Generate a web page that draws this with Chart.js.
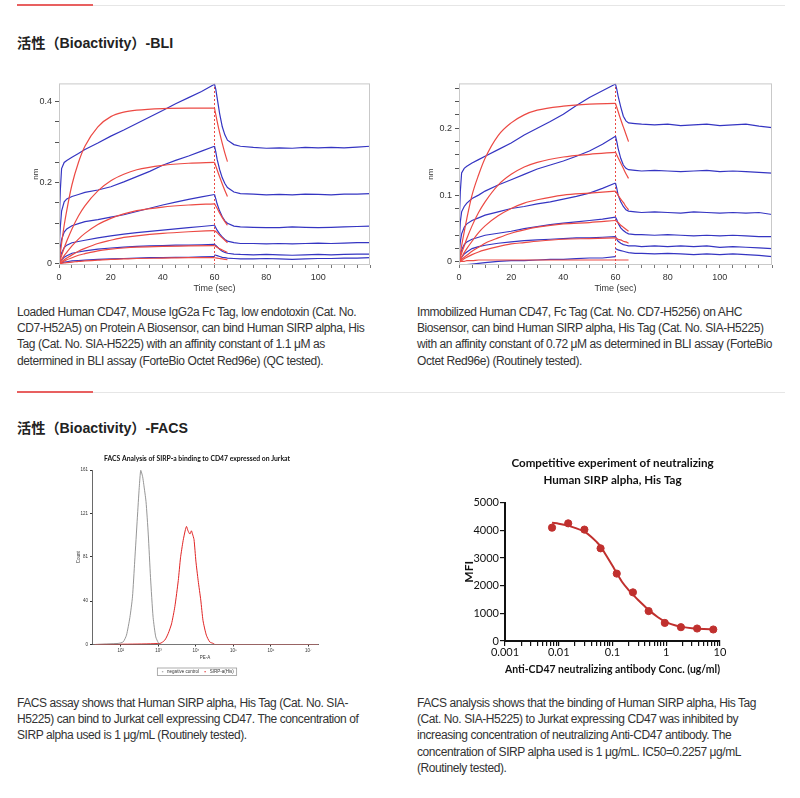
<!DOCTYPE html>
<html>
<head>
<meta charset="utf-8">
<script src="https://cdn.jsdelivr.net/npm/chart.js@4.4.0/dist/chart.umd.min.js"></script>
<style>
  body { margin:0; background:#fff; width:800px; height:798px; position:relative; overflow:hidden;
         font-family:"Liberation Sans", Arial, "Noto Sans CJK SC", sans-serif; color:#333; }
  .rule { position:absolute; left:17px; width:768px; height:1px; background:#e6e6e6; }
  .rule i { position:absolute; left:0; top:-1px; width:76px; height:2px; background:#e86060; }
  h2 { position:absolute; left:17px; margin:0; font-size:14.2px; font-weight:bold; color:#222; line-height:18px; }
  .txt { position:absolute; font-size:12px; line-height:16.2px; white-space:nowrap; letter-spacing:-0.42px; color:#333; }
  .box { position:absolute; }
</style>
</head>
<body>
<div class="rule" style="top:5px"><i></i></div>
<h2 style="top:34px">活性（Bioactivity）-BLI</h2>

<div class="box" style="left:28px;top:75px"><canvas id="bli1" width="350" height="227"></canvas></div>
<div class="box" style="left:410px;top:75px"><canvas id="bli2" width="370" height="227"></canvas></div>

<div class="txt" style="left:17px;top:304px">
  Loaded Human CD47, Mouse IgG2a Fc Tag, low endotoxin (Cat. No.<br>
  CD7-H52A5) on Protein A Biosensor, can bind Human SIRP alpha, His<br>
  Tag (Cat. No. SIA-H5225) with an affinity constant of 1.1 μM as<br>
  determined in BLI assay (ForteBio Octet Red96e) (QC tested).
</div>
<div class="txt" style="left:417px;top:304px">
  Immobilized Human CD47, Fc Tag (Cat. No. CD7-H5256) on AHC<br>
  Biosensor, can bind Human SIRP alpha, His Tag (Cat. No. SIA-H5225)<br>
  with an affinity constant of 0.72 μM as determined in BLI assay (ForteBio<br>
  Octet Red96e) (Routinely tested).
</div>

<div class="rule" style="top:392px"><i></i></div>
<h2 style="top:419px">活性（Bioactivity）-FACS</h2>

<div class="box" style="left:76px;top:452px"><canvas id="facs" width="254" height="232"></canvas></div>
<div class="box" style="left:459px;top:452px"><canvas id="comp" width="300" height="228"></canvas></div>

<div class="txt" style="left:17px;top:695px">
  FACS assay shows that Human SIRP alpha, His Tag (Cat. No. SIA-<br>
  H5225) can bind to Jurkat cell expressing CD47. The concentration of<br>
  SIRP alpha used is 1 μg/mL (Routinely tested).
</div>
<div class="txt" style="left:417px;top:695px">
  FACS analysis shows that the binding of Human SIRP alpha, His Tag<br>
  (Cat. No. SIA-H5225) to Jurkat expressing CD47 was inhibited by<br>
  increasing concentration of neutralizing Anti-CD47 antibody. The<br>
  concentration of SIRP alpha used is 1 μg/mL. IC50=0.2257 μg/mL<br>
  (Routinely tested).
</div>

<script>
// ---- BLI data (time in sec, response in nm) ----
const bliAssocT = [0, 0.5, 1, 2, 3, 5, 7.5, 10, 15, 20, 25, 30, 35, 40, 45, 50, 55, 60];
const bliDissT = [60, 60.5, 61, 62, 63, 64, 65, 67.5, 70, 75, 80, 85, 90, 95, 100, 105, 110, 115, 120];
const fitAssocT = [0, 1, 2, 3, 5, 7.5, 10, 15, 20, 25, 30, 40, 50, 60];
const fitDissT = [60, 61, 62, 63, 64, 65];
const bliXTicks = [0, 5, 10, 15, 20, 25, 30, 35, 40, 45, 50, 55, 60, 65, 70, 75, 80, 85, 90, 95, 100, 105, 110, 115, 120];
const bliXLabels = [0, 20, 40, 60, 80, 100];

// chart 1: loaded CD47 on Protein A
const bli1Assoc = [
  [0.08, 0.18, 0.235, 0.25, 0.255, 0.263, 0.272, 0.282, 0.298, 0.315, 0.33, 0.346, 0.362, 0.378, 0.395, 0.41, 0.425, 0.443],
  [0.03, 0.09, 0.13, 0.153, 0.16, 0.166, 0.171, 0.176, 0.182, 0.19, 0.202, 0.215, 0.228, 0.243, 0.255, 0.266, 0.278, 0.29],
  [0.01, 0.04, 0.06, 0.078, 0.086, 0.094, 0.099, 0.104, 0.109, 0.115, 0.121, 0.129, 0.137, 0.145, 0.152, 0.159, 0.165, 0.171],
  [0.003, 0.015, 0.027, 0.04, 0.046, 0.052, 0.055, 0.058, 0.064, 0.069, 0.073, 0.077, 0.08, 0.083, 0.086, 0.089, 0.092, 0.095],
  [0, 0.006, 0.01, 0.016, 0.02, 0.026, 0.029, 0.032, 0.036, 0.039, 0.041, 0.043, 0.044, 0.045, 0.046, 0.046, 0.047, 0.048],
  [0, 0.002, 0.003, 0.004, 0.005, 0.007, 0.008, 0.009, 0.011, 0.012, 0.013, 0.014, 0.015, 0.015, 0.016, 0.016, 0.017, 0.018]
];
const bli1Diss = [
  [0.443, 0.43, 0.41, 0.37, 0.338, 0.318, 0.305, 0.294, 0.29, 0.287, 0.285, 0.286, 0.285, 0.287, 0.286, 0.287, 0.286, 0.288, 0.29],
  [0.29, 0.276, 0.258, 0.232, 0.212, 0.198, 0.188, 0.177, 0.173, 0.172, 0.17, 0.171, 0.17, 0.172, 0.171, 0.17, 0.172, 0.172, 0.173],
  [0.171, 0.16, 0.148, 0.13, 0.116, 0.106, 0.1, 0.093, 0.091, 0.09, 0.089, 0.089, 0.091, 0.09, 0.089, 0.09, 0.091, 0.092, 0.093],
  [0.095, 0.089, 0.083, 0.074, 0.066, 0.06, 0.056, 0.052, 0.05, 0.05, 0.049, 0.05, 0.049, 0.05, 0.051, 0.05, 0.051, 0.052, 0.052],
  [0.048, 0.045, 0.042, 0.036, 0.031, 0.028, 0.026, 0.024, 0.023, 0.022, 0.023, 0.022, 0.021, 0.022, 0.023, 0.022, 0.023, 0.024, 0.024],
  [0.022, 0.021, 0.02, 0.018, 0.016, 0.015, 0.014, 0.013, 0.012, 0.012, 0.013, 0.012, 0.011, 0.012, 0.013, 0.013, 0.014, 0.014, 0.015]
];
const bli1FitAssoc = [
  [0, 0.05, 0.095, 0.132, 0.195, 0.25, 0.29, 0.338, 0.363, 0.374, 0.379, 0.383, 0.384, 0.384],
  [0, 0.02, 0.039, 0.056, 0.086, 0.118, 0.143, 0.18, 0.205, 0.221, 0.232, 0.243, 0.248, 0.25],
  [0, 0.01, 0.02, 0.028, 0.044, 0.061, 0.075, 0.097, 0.112, 0.123, 0.131, 0.14, 0.145, 0.148],
  [0, 0.005, 0.01, 0.014, 0.022, 0.031, 0.038, 0.05, 0.058, 0.065, 0.069, 0.075, 0.079, 0.082],
  [0, 0.003, 0.007, 0.01, 0.015, 0.021, 0.025, 0.032, 0.036, 0.039, 0.041, 0.043, 0.044, 0.045],
  [0, 0.001, 0.002, 0.003, 0.004, 0.006, 0.007, 0.009, 0.011, 0.012, 0.013, 0.014, 0.015, 0.015]
];
const bli1FitDiss = [
  [0.384, 0.352, 0.323, 0.297, 0.273, 0.252],
  [0.25, 0.232, 0.214, 0.197, 0.181, 0.166],
  [0.148, 0.137, 0.125, 0.114, 0.104, 0.095],
  [0.082, 0.077, 0.07, 0.064, 0.058, 0.052],
  [0.045, 0.041, 0.037, 0.034, 0.031, 0.028],
  [0.015, 0.014, 0.013, 0.012, 0.011, 0.01]
];
const bli1YTicks = [0, 0.05, 0.1, 0.15, 0.2, 0.25, 0.3, 0.35, 0.4];
const bli1YLabels = [0, 0.2, 0.4];

// chart 2: immobilized CD47 on AHC
const bli2Assoc = [
  [0.05, 0.105, 0.133, 0.14, 0.143, 0.148, 0.153, 0.158, 0.168, 0.178, 0.19, 0.2, 0.21, 0.221, 0.234, 0.246, 0.256, 0.266],
  [0.02, 0.06, 0.075, 0.083, 0.088, 0.095, 0.1, 0.106, 0.115, 0.123, 0.131, 0.139, 0.145, 0.151, 0.158, 0.166, 0.176, 0.188],
  [0.01, 0.03, 0.042, 0.052, 0.057, 0.062, 0.066, 0.07, 0.075, 0.08, 0.083, 0.087, 0.09, 0.094, 0.098, 0.103, 0.11, 0.118],
  [0, 0.01, 0.018, 0.026, 0.03, 0.034, 0.037, 0.04, 0.043, 0.046, 0.05, 0.053, 0.056, 0.058, 0.06, 0.062, 0.064, 0.067],
  [0, 0.004, 0.007, 0.012, 0.015, 0.02, 0.023, 0.025, 0.028, 0.03, 0.032, 0.033, 0.034, 0.035, 0.036, 0.036, 0.037, 0.038],
  [-0.005, -0.005, -0.005, -0.005, -0.004, -0.003, -0.002, -0.001, 0.001, 0.002, 0.002, 0.003, 0.004, 0.004, 0.005, 0.006, 0.006, 0.008]
];
const bli2Diss = [
  [0.266, 0.258, 0.248, 0.232, 0.218, 0.211, 0.208, 0.207, 0.206, 0.205, 0.206, 0.204, 0.205, 0.206, 0.204, 0.205, 0.206, 0.203, 0.201],
  [0.188, 0.18, 0.17, 0.155, 0.145, 0.14, 0.138, 0.137, 0.136, 0.137, 0.136, 0.135, 0.136, 0.137, 0.135, 0.136, 0.135, 0.134, 0.133],
  [0.118, 0.11, 0.1, 0.09, 0.083, 0.078, 0.076, 0.075, 0.074, 0.075, 0.074, 0.073, 0.075, 0.074, 0.073, 0.074, 0.073, 0.074, 0.071],
  [0.067, 0.063, 0.058, 0.051, 0.047, 0.044, 0.042, 0.041, 0.041, 0.04, 0.041, 0.04, 0.039, 0.04, 0.039, 0.04, 0.039, 0.038, 0.038],
  [0.038, 0.034, 0.031, 0.028, 0.026, 0.025, 0.024, 0.024, 0.023, 0.024, 0.023, 0.024, 0.023, 0.024, 0.022, 0.023, 0.022, 0.021, 0.02],
  [0.02, 0.019, 0.018, 0.017, 0.016, 0.015, 0.014, 0.013, 0.013, 0.012, 0.013, 0.012, 0.011, 0.012, 0.011, 0.012, 0.011, 0.01, 0.008]
];
const bli2FitAssoc = [
  [0, 0.024, 0.045, 0.065, 0.1, 0.13, 0.155, 0.189, 0.208, 0.22, 0.227, 0.233, 0.236, 0.237],
  [0, 0.013, 0.024, 0.035, 0.054, 0.074, 0.09, 0.115, 0.131, 0.142, 0.149, 0.157, 0.161, 0.164],
  [0, 0.007, 0.014, 0.02, 0.031, 0.044, 0.054, 0.069, 0.08, 0.088, 0.093, 0.1, 0.103, 0.106],
  [0, 0.004, 0.007, 0.01, 0.016, 0.022, 0.028, 0.036, 0.043, 0.048, 0.052, 0.057, 0.059, 0.062],
  [0, 0.002, 0.005, 0.007, 0.011, 0.015, 0.018, 0.023, 0.027, 0.029, 0.031, 0.034, 0.035, 0.036],
  [0, 0.001, 0.001, 0.002, 0.002, 0.003, 0.003, 0.003, 0.003, 0.003, 0.003, 0.003, 0.003, 0.003]
];
const bli2FitDiss = [
  [0.237, 0.225, 0.213, 0.202, 0.191, 0.18],
  [0.164, 0.156, 0.148, 0.14, 0.132, 0.125],
  [0.106, 0.1, 0.094, 0.089, 0.083, 0.078],
  [0.062, 0.059, 0.055, 0.052, 0.049, 0.046],
  [0.036, 0.034, 0.033, 0.031, 0.03, 0.028],
  [0.003, 0.003, 0.003, 0.003, 0.003, 0.003]
];
const bli2YTicks = [0, 0.02, 0.04, 0.06, 0.08, 0.1, 0.12, 0.14, 0.16, 0.18, 0.2, 0.22, 0.24, 0.26];
const bli2YLabels = [0, 0.1, 0.2];

// ---- FACS histogram (PE-A intensity vs count) ----
const negX = [20, 85, 115, 141, 174, 204, 234, 275, 309, 339, 380, 407, 468, 537, 617, 724, 851, 1000, 1100, 18000000];
const negY = [0, 1, 2.4, 8.6, 25, 44, 77, 117, 145, 161, 155, 148, 132, 102, 62, 25, 7, 1.5, 0, 0];
const posX = [20, 1100, 1480, 1820, 2240, 2750, 3390, 3890, 4570, 5250, 5620, 6170, 6920, 7590, 8130, 8910, 10000, 11500, 13500, 15500, 19000, 23400, 28800, 32000, 18000000];
const posY = [0, 1, 4, 10, 19, 35, 59, 80, 96, 106, 109, 105, 102, 105, 102, 97, 77, 59, 41, 22, 8.6, 2.4, 1, 0, 0];
const facsYTicks = [0, 40, 81, 121, 161];
const facsXTicks = [100, 1000, 10000, 100000, 1000000, 10000000];
const facsXLabels = ['10²', '10³', '10⁴', '10⁵', '10⁶', '10⁷'];

// ---- competitive neutralization (ug/ml vs MFI) ----
const compConc = [0.0075, 0.015, 0.03, 0.06, 0.12, 0.24, 0.47, 0.94, 1.875, 3.75, 7.5];
const compMfi = [4097, 4252, 4026, 3349, 2435, 1758, 1081, 653, 499, 451, 416];
const compFitConc = [0.0075, 0.01, 0.015, 0.02, 0.03, 0.04, 0.05, 0.06, 0.075, 0.1, 0.12, 0.15, 0.2, 0.25, 0.3, 0.4, 0.5, 0.7, 1, 1.5, 2, 3, 5, 7.5];
const compFitMfi = [4270, 4240, 4170, 4090, 3950, 3770, 3590, 3420, 3120, 2720, 2450, 2140, 1840, 1640, 1480, 1250, 1080, 860, 680, 560, 510, 465, 435, 425];
const compXMajor = [0.001, 0.01, 0.1, 1, 10];
const compXMajorText = ['0.001', '0.01', '0.1', '1', '10'];
const compXTicks = [0.001, 0.002, 0.003, 0.004, 0.005, 0.006, 0.007, 0.008, 0.009,
  0.01, 0.02, 0.03, 0.04, 0.05, 0.06, 0.07, 0.08, 0.09,
  0.1, 0.2, 0.3, 0.4, 0.5, 0.6, 0.7, 0.8, 0.9,
  1, 2, 3, 4, 5, 6, 7, 8, 9, 10];

const BLUE = '#3535c2';
const RED = '#ec4a44';
const DARK_RED = '#c0302e';

const pts = (xs, ys) => xs.map((x, i) => ({ x, y: ys[i] }));

Chart.defaults.font.family = '"Liberation Sans", Arial, sans-serif';
Chart.defaults.color = '#333';

// plain box round the plot area (BLI plots)
const framePlugin = {
  id: 'frame',
  afterDatasetsDraw(chart, args, opts) {
    if (!opts.color) return;
    const { left, top, right, bottom } = chart.chartArea;
    const ctx = chart.ctx;
    ctx.save();
    ctx.strokeStyle = opts.color;
    ctx.lineWidth = 1;
    ctx.strokeRect(left + 0.5, top + 0.5, right - left - 1, bottom - top - 1);
    ctx.restore();
  }
};

// thin outline round the legend (FACS plot)
const legendBoxPlugin = {
  id: 'legendBox',
  afterDraw(chart, args, opts) {
    if (!opts.color || !chart.legend || !chart.legend.legendHitBoxes.length) return;
    const boxes = chart.legend.legendHitBoxes;
    const x0 = Math.min(...boxes.map(b => b.left)) - 3;
    const x1 = Math.max(...boxes.map(b => b.left + b.width)) + 3;
    const y0 = Math.min(...boxes.map(b => b.top)) - 1.5;
    const y1 = Math.max(...boxes.map(b => b.top + b.height)) + 1.5;
    const ctx = chart.ctx;
    ctx.save();
    ctx.strokeStyle = opts.color;
    ctx.lineWidth = 0.8;
    ctx.strokeRect(x0, y0, x1 - x0, y1 - y0);
    ctx.restore();
  }
};

function bliChart(id, cfg) {
  const datasets = [];
  cfg.fitAssoc.forEach((ys, i) => {
    datasets.push({ data: pts(fitAssocT, ys), borderColor: RED, cubicInterpolationMode: 'monotone' });
    datasets.push({ data: pts(fitDissT, cfg.fitDiss[i]), borderColor: RED, cubicInterpolationMode: 'monotone' });
  });
  cfg.assoc.forEach((ys, i) => {
    datasets.push({ data: pts(bliAssocT, ys), borderColor: BLUE });
    datasets.push({ data: pts(bliDissT, cfg.diss[i]), borderColor: BLUE });
  });
  // dotted marker at the start of dissociation
  datasets.push({ data: [{ x: 60, y: cfg.yMin }, { x: 60, y: cfg.yMax }], borderColor: RED, borderWidth: 1, borderDash: [2, 2] });

  return new Chart(document.getElementById(id), {
    type: 'line',
    data: { datasets },
    plugins: [framePlugin],
    options: {
      responsive: false,
      animation: false,
      layout: { padding: cfg.padding },
      elements: { point: { radius: 0 }, line: { borderWidth: 1.2, tension: 0 } },
      plugins: { legend: { display: false }, tooltip: { enabled: false }, frame: { color: '#c9c9c9' } },
      scales: {
        x: {
          type: 'linear', min: 0, max: 120,
          afterBuildTicks: s => { s.ticks = bliXTicks.map(v => ({ value: v })); },
          afterFit: s => { s.height = 37; },
          ticks: { autoSkip: false, maxRotation: 0, padding: 4, font: { size: 9 }, color: '#333',
                   callback: v => bliXLabels.includes(v) ? String(v) : '' },
          grid: { drawOnChartArea: false, tickLength: 3, color: '#777' },
          border: { display: false },
          title: { display: true, text: 'Time (sec)', font: { size: 9 }, color: '#333', padding: { top: 0, bottom: 8 } }
        },
        y: {
          type: 'linear', min: cfg.yMin, max: cfg.yMax,
          afterBuildTicks: s => { s.ticks = cfg.yTicks.map(v => ({ value: v })); },
          afterFit: s => { s.width = cfg.yWidth; },
          ticks: { autoSkip: false, padding: 3, font: { size: 9 }, color: '#333',
                   callback: v => cfg.yLabels.includes(v) ? String(v) : '' },
          grid: { drawOnChartArea: false, tickLength: 4, color: '#555' },
          border: { display: false },
          title: { display: true, text: 'nm', font: { size: 8 }, color: '#333', padding: { top: 3, bottom: 2 } }
        }
      }
    }
  });
}

bliChart('bli1', {
  assoc: bli1Assoc, diss: bli1Diss, fitAssoc: bli1FitAssoc, fitDiss: bli1FitDiss,
  yMin: -0.003, yMax: 0.445, yTicks: bli1YTicks, yLabels: bli1YLabels, yWidth: 31,
  padding: { left: 0, right: 8, top: 0, bottom: 0 }
});
bliChart('bli2', {
  assoc: bli2Assoc, diss: bli2Diss, fitAssoc: bli2FitAssoc, fitDiss: bli2FitDiss,
  yMin: -0.0045, yMax: 0.267, yTicks: bli2YTicks, yLabels: bli2YLabels, yWidth: 36,
  padding: { left: 13, right: 8, top: 0, bottom: 0 }
});

// FACS histogram
new Chart(document.getElementById('facs'), {
  type: 'line',
  data: {
    datasets: [
      { label: 'negative control', data: pts(negX, negY), borderColor: '#8a8a8a', borderWidth: 0.9 },
      { label: 'SIRP-a(His)', data: pts(posX, posY), borderColor: '#e02424', borderWidth: 1 }
    ]
  },
  plugins: [legendBoxPlugin],
  options: {
    responsive: false,
    animation: false,
    layout: { padding: { left: 0, right: 12, top: 0, bottom: 0 } },
    elements: { point: { radius: 0 }, line: { tension: 0.2 } },
    plugins: {
      tooltip: { enabled: false },
      legendBox: { color: '#999' },
      title: { display: true, text: 'FACS Analysis of SIRP-a binding to CD47 expressed on Jurkat',
               font: { family: 'Lato', size: 6.8, weight: 'bold' }, color: '#111', padding: { top: 3, bottom: 7 } },
      legend: { position: 'bottom',
                labels: { usePointStyle: true, pointStyle: 'line', boxWidth: 7, boxHeight: 1, padding: 4,
                          font: { size: 4.5 }, color: '#333' } }
    },
    scales: {
      x: {
        type: 'logarithmic', min: 17, max: 18000000,
        afterBuildTicks: s => { s.ticks = facsXTicks.map(v => ({ value: v })); },
        afterFit: s => { s.height = 21; },
        ticks: { autoSkip: false, maxRotation: 0, padding: 2, font: { size: 4.5 }, color: '#333',
                 callback: v => facsXLabels[facsXTicks.indexOf(v)] || '' },
        grid: { drawOnChartArea: false, tickLength: 2, color: '#333' },
        border: { color: '#444', width: 0.8 },
        title: { display: true, text: 'PE-A', font: { size: 4.5 }, color: '#333', padding: { top: 0, bottom: 5 } }
      },
      y: {
        type: 'linear', min: 0, max: 161,
        afterBuildTicks: s => { s.ticks = facsYTicks.map(v => ({ value: v })); },
        afterFit: s => { s.width = 16; },
        ticks: { autoSkip: false, padding: 2, font: { size: 4.5 }, color: '#333' },
        grid: { drawOnChartArea: false, tickLength: 2, color: '#333' },
        border: { color: '#444', width: 0.8 },
        title: { display: true, text: 'Count', font: { size: 4.5 }, color: '#333', padding: { top: 0, bottom: 0 } }
      }
    }
  }
});

// competitive neutralization curve
new Chart(document.getElementById('comp'), {
  type: 'line',
  data: {
    datasets: [
      { data: pts(compConc, compMfi), showLine: false, pointRadius: 3.6, pointBackgroundColor: DARK_RED, pointBorderColor: DARK_RED },
      { data: pts(compFitConc, compFitMfi), borderColor: DARK_RED, borderWidth: 2, pointRadius: 0, cubicInterpolationMode: 'monotone' }
    ]
  },
  options: {
    responsive: false,
    animation: false,
    layout: { padding: { left: 0, right: 39, top: 0, bottom: 0 } },
    plugins: {
      legend: { display: false },
      tooltip: { enabled: false },
      title: { display: true, fullSize: false, text: ['Competitive experiment of neutralizing', 'Human SIRP alpha, His Tag'],
               font: { family: 'Lato', size: 11.6, weight: 'bold', lineHeight: 1.45 }, color: '#111', padding: { top: 3, bottom: 14 } }
    },
    scales: {
      x: {
        type: 'logarithmic', min: 0.001, max: 10,
        afterBuildTicks: s => { s.ticks = compXTicks.map(v => ({ value: v })); },
        afterFit: s => { s.height = 39; },
        ticks: { autoSkip: false, maxRotation: 0, padding: 0, font: { family: 'Lato', size: 11 }, color: '#111',
                 callback: v => { const i = compXMajor.indexOf(v); return i >= 0 ? compXMajorText[i] : ''; } },
        grid: { drawOnChartArea: false, tickLength: 5, color: '#111', lineWidth: 1.2 },
        border: { color: '#111', width: 2 },
        title: { display: true, text: 'Anti-CD47 neutralizing antibody Conc. (ug/ml)',
                 font: { family: 'Lato', size: 12.2, weight: 'bold' }, color: '#111', padding: { top: 0, bottom: 4 } }
      },
      y: {
        type: 'linear', min: 0, max: 5000,
        ticks: { stepSize: 1000, padding: 1, font: { family: 'Lato', size: 11 }, color: '#111', callback: v => String(v) },
        afterFit: s => { s.width = 46; },
        grid: { drawOnChartArea: false, tickLength: 5, color: '#111', lineWidth: 1.2 },
        border: { color: '#111', width: 2 },
        title: { display: true, text: 'MFI', font: { family: 'Lato', size: 12, weight: 'bold' }, color: '#111', padding: { top: 3, bottom: 2 } }
      }
    }
  }
});
</script>
</body>
</html>
